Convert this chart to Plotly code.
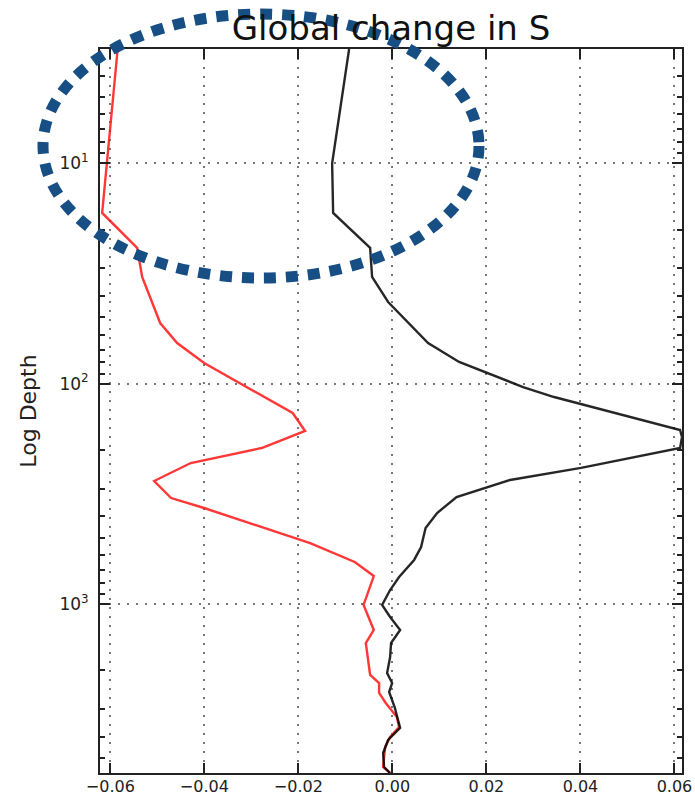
import plotly.graph_objects as go

# ---- data ----
depth_black = [3.03, 10.0, 16.8, 24.2, 32.8, 42.6, 65.4, 79.7, 103.6, 115.0, 162.3, 174.6,
               195.9, 241.3, 273.6, 326.9, 386.4, 451.9, 551.0, 631.0, 754.0, 864.0, 1010.0,
               1145.0, 1312.0, 1503.0, 1740.0, 2056.0, 2283.0, 2508.0, 2934.0, 3652.0,
               4141.0, 4745.0, 5491.0, 5847.0]
ds_black = [-0.00921, -0.01282, -0.01261, -0.00474, -0.00432, -0.00091, 0.00759, 0.01419,
            0.02780, 0.03439, 0.06119, 0.06160, 0.06120, 0.04013, 0.02503, 0.01365, 0.00951,
            0.00706, 0.00610, 0.00462, 0.00142, -0.00049, -0.00219, -0.00049, 0.00164,
            -0.00028, -0.00049, -0.00113, -0.00006, -0.00070, 0.00047, 0.00164, -0.00091,
            -0.00198, -0.00177, -0.00049]

depth_red = [3.03, 16.8, 24.2, 32.8, 53.1, 65.4, 80.6, 135.9, 164.0, 195.9, 229.2, 276.6,
             330.5, 366.7, 528.9, 644.9, 746.7, 864.0, 1010.0, 1312.0, 1503.0, 2099.0,
             2283.0, 2534.0, 2814.0, 3256.0, 3615.0, 4014.0, 4456.0, 5491.0, 5847.0]
ds_red = [-0.05844, -0.06174, -0.05430, -0.05323, -0.04940, -0.04579, -0.04005, -0.02122,
          -0.01857, -0.02782, -0.04290, -0.05068, -0.04707, -0.04005, -0.01750, -0.00802,
          -0.00396, -0.00496, -0.00613, -0.00396, -0.00566, -0.00474, -0.00283, -0.00283,
          -0.00142, 0.00094, 0.00142, -0.00049, -0.00155, -0.00198, -0.00049]

x_tickvals = [-0.06, -0.04, -0.02, 0.00, 0.02, 0.04, 0.06]
x_ticktext = ["\u22120.06", "\u22120.04", "\u22120.02", "0.00", "0.02", "0.04", "0.06"]
y_tickvals = [10, 100, 1000]
y_ticktext = ["10<sup>1</sup>", "10<sup>2</sup>", "10<sup>3</sup>"]
y_minor = [4, 5, 6, 7, 8, 9, 20, 30, 40, 50, 60, 70, 80, 90,
           200, 300, 400, 500, 600, 700, 800, 900, 2000, 3000, 4000, 5000]

title_text = "Global change in S"
ylabel_text = "Log Depth"

FONT = "DejaVu Sans"
AX = "#222222"
GRID = "#777777"

fig = go.Figure()
fig.add_trace(go.Scatter(x=ds_red, y=depth_red, mode="lines",
                         line=dict(color="rgba(255,20,20,0.85)", width=2.4)))
fig.add_trace(go.Scatter(x=ds_black, y=depth_black, mode="lines",
                         line=dict(color="rgba(0,0,0,0.85)", width=2.4)))

fig.update_layout(
    width=695, height=797,
    margin=dict(l=100, r=13, t=49, b=24),
    paper_bgcolor="white", plot_bgcolor="white",
    showlegend=False,
    font=dict(family=FONT, color=AX),
    title=dict(text=title_text, x=0.5, xref="paper", xanchor="center",
               y=1 - 28 / 797, yanchor="middle", yref="container",
               font=dict(size=34, family=FONT, color="#111111")),
    xaxis=dict(
        range=[-0.0622, 0.0616], tickvals=x_tickvals, ticktext=x_ticktext,
        ticks="inside", ticklen=10, tickwidth=1.5, tickcolor=AX,
        showline=True, linewidth=2, linecolor=AX, mirror="ticks",
        showgrid=True, gridcolor=GRID, gridwidth=1.5, griddash="2px,7px",
        zeroline=False, tickfont=dict(size=16, family=FONT, color=AX),
        ticklabelstandoff=-2,
        automargin=False,
    ),
    yaxis=dict(
        type="log", range=[3.7669, 0.4814],
        tickvals=y_tickvals, ticktext=y_ticktext,
        ticks="inside", ticklen=10, tickwidth=1.5, tickcolor=AX,
        minor=dict(tickvals=y_minor, ticks="inside", ticklen=5, tickwidth=1.5,
                   tickcolor=AX, showgrid=False),
        showline=True, linewidth=2, linecolor=AX, mirror="ticks",
        showgrid=True, gridcolor=GRID, gridwidth=1.5, griddash="2px,7px",
        zeroline=False, tickfont=dict(size=17, family=FONT, color=AX),
        ticklabelstandoff=6,
        title=dict(text=ylabel_text, font=dict(size=22, family=FONT, color=AX), standoff=17),
        automargin=False,
    ),
)

# dashed highlight ellipse (annotation drawn over the chart)
fig.add_shape(type="circle", xref="paper", yref="paper",
              x0=(43 - 100) / 582, x1=(479 - 100) / 582,
              y0=(773 - 278) / 724, y1=(773 - 14) / 724,
              line=dict(color="#174f85", width=11, dash="12px,10px"),
              layer="above")

fig.write_html("out.html")
